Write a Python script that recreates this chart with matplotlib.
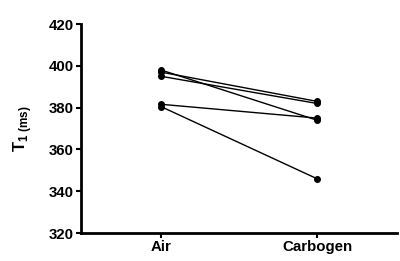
import matplotlib
matplotlib.use("Agg")
import matplotlib.pyplot as plt

plt.rcParams['font.family'] = ['Liberation Sans', 'DejaVu Sans']
plt.rcParams['mathtext.fontset'] = 'custom'
plt.rcParams['mathtext.rm'] = 'Liberation Sans:bold'
plt.rcParams['mathtext.bf'] = 'Liberation Sans:bold'

# data (T1 in ms), one pair per subject
conditions = ["Air", "Carbogen"]
air = [398, 397, 395, 381.6, 380.5]
carbogen = [374, 383, 382, 375, 346]

fig = plt.figure(figsize=(4.0, 2.61), dpi=100)
ax = fig.add_axes([0.2025, 0.107, 0.79, 0.801])

for a, c in zip(air, carbogen):
    ax.plot([0, 1], [a, c], color='black', lw=1.0, marker='o', ms=4,
            clip_on=False)

ax.set_xlim(-0.513, 1.513)
ax.set_ylim(320, 420)
ax.set_yticks(range(320, 421, 20))
ax.set_xticks([0, 1])
ax.set_xticklabels(conditions)

for s in ['top', 'right']:
    ax.spines[s].set_visible(False)
for s in ['left', 'bottom']:
    ax.spines[s].set_linewidth(2)

ax.tick_params(axis='both', length=3.5, width=1.5, labelsize=10.8, pad=1.5)
for lbl in ax.get_xticklabels() + ax.get_yticklabels():
    lbl.set_fontweight('bold')

ax.set_ylabel(r'$\mathrm{T}_{\mathrm{1\ (ms)}}$', fontsize=12, labelpad=11)

fig.savefig("out.png", dpi=100)
